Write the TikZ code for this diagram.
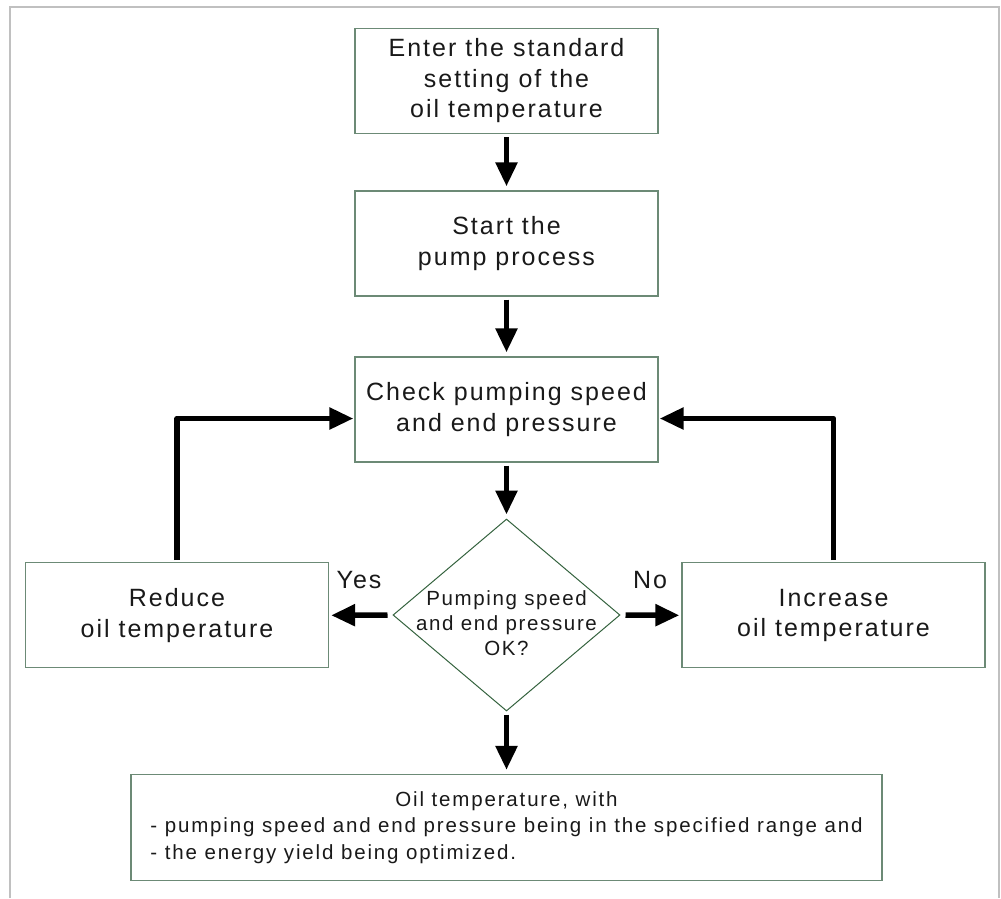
\documentclass[tikz,border=0pt]{standalone}
\usepackage{fontspec}
\setmainfont{Liberation Sans}[LetterSpace=8]
\newfontfamily\diaf{Liberation Sans}[LetterSpace=8]
\newfontfamily\botf{Liberation Sans}[LetterSpace=9]
\usetikzlibrary{arrows.meta,shapes.geometric,calc}
\definecolor{boxcol}{RGB}{108,138,118}
\definecolor{diacol}{RGB}{52,98,62}
\definecolor{framecol}{RGB}{192,192,192}
\definecolor{txtcol}{RGB}{25,25,25}
\begin{document}
\begin{tikzpicture}[x=1pt,y=-1pt,
  stepbox/.style={draw=boxcol, line width=1.3pt, inner sep=0pt, align=center,
    minimum width=303pt, minimum height=105pt, text=txtcol,
    font=\fontsize{25}{30.5}\selectfont},
  smalltxt/.style={inner sep=0pt, align=center, text=txtcol,
    font=\diaf\fontsize{20.5}{25}\selectfont},
  conn/.style={line width=5.5pt, line join=round,
    -{Triangle[length=24pt,width=21pt]}, shorten <=3pt, shorten >=4pt},
  lbl/.style={inner sep=0pt, anchor=base, text=txtcol,
    font=\fontsize{25}{28}\selectfont}]
\useasboundingbox (0,0) rectangle (1001,898);
% frame
\draw[framecol, line width=2.5pt] (10,898) -- (10,7) -- (999,7) -- (999,898);
% nodes
\node[stepbox] (b1) at (506.5,80.7) {Enter the standard\\setting of the\\oil temperature};
\node[stepbox] (b2) at (506.5,243.5) {Start the\\pump process};
\node[stepbox] (b3) at (506.5,409.5) {Check pumping speed\\and end pressure};
\node[diamond, draw=diacol, line width=1pt, inner sep=0pt,
      minimum width=227pt, minimum height=192pt] (dia) at (506.5,615) {};
\node[smalltxt] (diatxt) at (506.5,623) {Pumping speed\\and end pressure\\OK?};
\node[stepbox] (red) at (177,615.3) {Reduce\\oil temperature};
\node[stepbox] (inc) at (833.5,615.3) {Increase\\oil temperature};
\node[draw=boxcol, line width=1.3pt, minimum width=751pt, minimum height=106pt,
      inner sep=0pt, text=txtcol] (bot) at (506.5,827.5)
  {\botf\fontsize{20.5}{26.5}\selectfont
   \begin{tabular}{@{}l@{}}
   \multicolumn{1}{@{}c@{}}{Oil temperature, with}\\
   - pumping speed and end pressure being in the specified range and\\
   - the energy yield being optimized.
   \end{tabular}};
\node[lbl] (yes) at (359,588) {Yes};
\node[lbl] (no) at (650,588) {No};
% connectors
\draw[conn] (b1) -- (b2);
\draw[conn] (b2) -- (b3);
\draw[conn] (b3) -- (dia);
\draw[conn] (dia) -- (bot);
\draw[conn, shorten <=5pt, shorten >=2pt] (dia.west) -- (red.east);
\draw[conn, shorten <=5pt, shorten >=2pt] (dia.east) -- (inc.west);
\draw[conn, shorten <=2pt, shorten >=1pt] (red.north) |- ($(b3.west)+(0,9)$);
\draw[conn, shorten <=2pt, shorten >=1pt] (inc.north) |- ($(b3.east)+(0,9)$);
\end{tikzpicture}
\end{document}
